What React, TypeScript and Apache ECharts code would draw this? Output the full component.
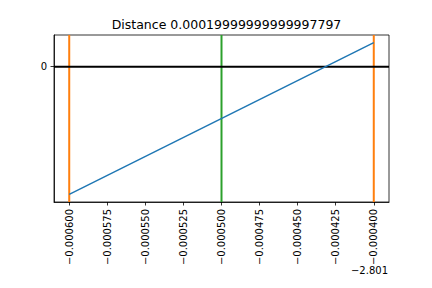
import React, { useEffect, useRef } from "react";
import * as echarts from "echarts";

const OFFSET_LABEL = "\u22122.801";
const TITLE = "Distance 0.00019999999999997797";
const xTicks = [-0.0006, -0.000575, -0.00055, -0.000525, -0.0005, -0.000475, -0.00045, -0.000425, -0.0004];
const yTicks = [0];
const lineX = [-0.0006, -0.0004];
const lineY = [-127, 24];
const boundsX = [-0.0006, -0.0004];
const midX = [-0.0005];
const xRange = [-0.00061, -0.00039];
const yRange = [-134.55, 31.55];

const fmt = (v: number) => {
  const s = Math.abs(v).toFixed(6);
  return (v < 0 ? "\u2212" : "") + s;
};

const vlines = (xs: number[]) => {
  const out: any[] = [];
  xs.forEach((x, i) => {
    if (i > 0) out.push(null);
    out.push([x, yRange[0]]);
    out.push([x, yRange[1]]);
  });
  return out;
};

export default function App() {
  const ref = useRef<HTMLDivElement>(null);
  useEffect(() => {
    document.body.style.margin = "0";
    const chart = echarts.init(ref.current!, null, { renderer: "svg" });
    const font = "DejaVu Sans";
    chart.setOption({
      animation: false,
      backgroundColor: "#ffffff",
      textStyle: { fontFamily: font },
      title: {
        text: TITLE,
        left: 221.5,
        textAlign: "center",
        top: 13,
        textStyle: { fontFamily: font, fontSize: 12.5, fontWeight: "normal", color: "#000" },
      },
      grid: { left: 54, top: 35, width: 335, height: 167, show: true, borderColor: "#000", borderWidth: 0.8, containLabel: false },
      xAxis: {
        type: "value",
        min: xRange[0],
        max: xRange[1],
        axisLine: { show: true, onZero: false, lineStyle: { color: "#000", width: 0.8 } },
        axisTick: { show: true, length: 3.5, customValues: xTicks, lineStyle: { color: "#000", width: 0.8 } },
        axisLabel: {
          show: true,
          customValues: xTicks,
          rotate: 90,
          margin: 7,
          fontSize: 10,
          color: "#000",
          fontFamily: font,
          formatter: (v: number) => fmt(v),
        },
        splitLine: { show: false },
      },
      yAxis: {
        type: "value",
        min: yRange[0],
        max: yRange[1],
        axisLine: { show: true, onZero: false, lineStyle: { color: "#000", width: 0.8 } },
        axisTick: { show: true, length: 3.5, customValues: yTicks, lineStyle: { color: "#000", width: 0.8 } },
        axisLabel: {
          show: true,
          customValues: yTicks,
          margin: 7,
          fontSize: 10,
          color: "#000",
          fontFamily: font,
          formatter: (v: number) => String(v),
        },
        splitLine: { show: false },
      },
      graphic: [
        {
          type: "text",
          right: 44,
          top: 265,
          style: { text: OFFSET_LABEL, fontSize: 10, fontFamily: font, fill: "#000" },
        },
      ],
      series: [
        {
          type: "line",
          z: 2,
          data: vlines(boundsX),
          connectNulls: false,
          showSymbol: false,
          symbol: "none",
          lineStyle: { color: "#ff7f0e", width: 2 },
        },
        {
          type: "line",
          z: 3,
          data: vlines(midX),
          showSymbol: false,
          symbol: "none",
          lineStyle: { color: "#2ca02c", width: 2 },
        },
        {
          type: "line",
          z: 4,
          data: [[xRange[0], 0], [xRange[1], 0]],
          showSymbol: false,
          symbol: "none",
          lineStyle: { color: "#000", width: 2 },
        },
        {
          type: "line",
          z: 5,
          data: lineX.map((x, i) => [x, lineY[i]]),
          showSymbol: false,
          symbol: "none",
          lineStyle: { color: "#1f77b4", width: 1.5 },
        },
      ],
    });
    return () => chart.dispose();
  }, []);
  return <div ref={ref} style={{ width: 432, height: 288, position: "absolute", left: 0, top: 0 }} />;
}
